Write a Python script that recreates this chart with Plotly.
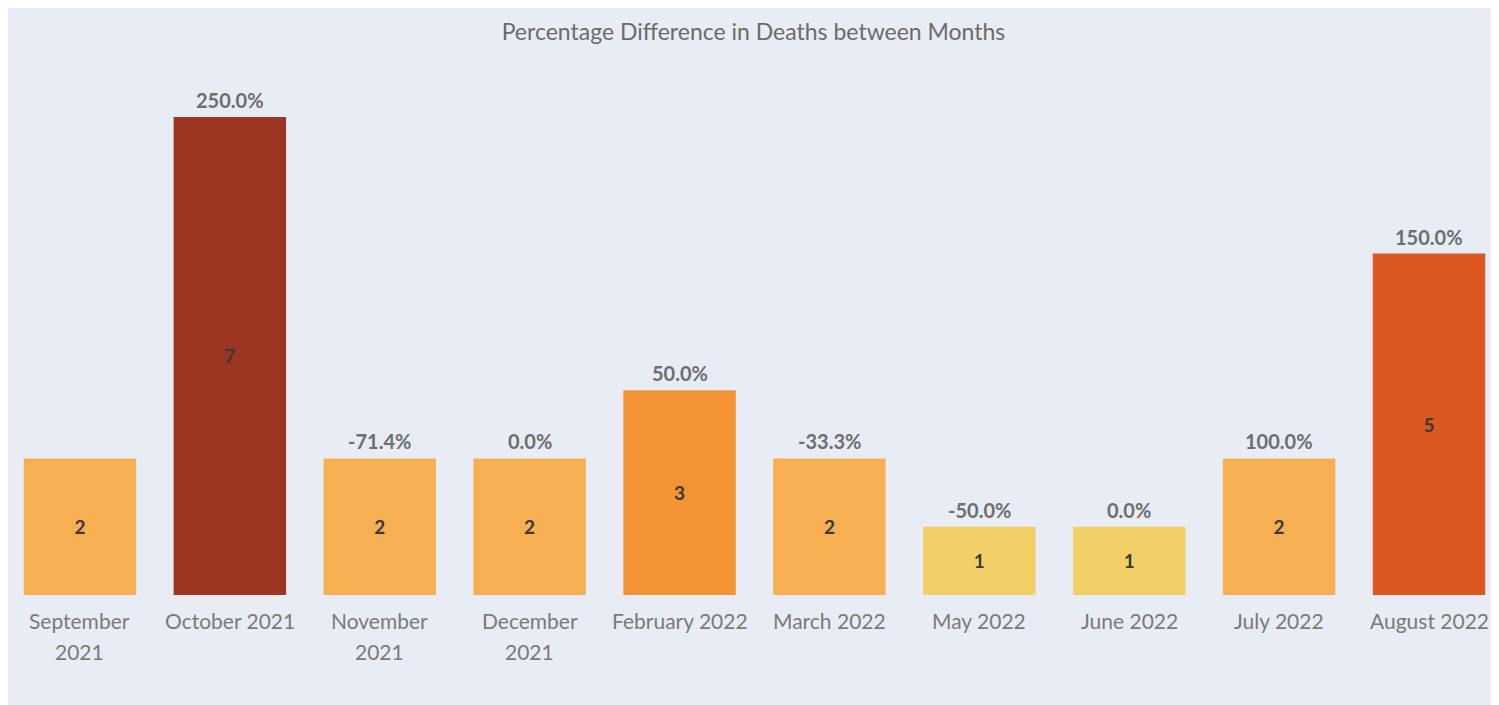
import plotly.graph_objects as go

months = ["September 2021", "October 2021", "November 2021", "December 2021",
          "February 2022", "March 2022", "May 2022", "June 2022", "July 2022", "August 2022"]
tick_lines = [["September", "2021"], ["October 2021"], ["November", "2021"], ["December", "2021"],
              ["February 2022"], ["March 2022"], ["May 2022"], ["June 2022"], ["July 2022"], ["August 2022"]]
deaths = [2, 7, 2, 2, 3, 2, 1, 1, 2, 5]
pct_labels = ["", "250.0%", "-71.4%", "0.0%", "50.0%", "-33.3%", "-50.0%", "0.0%", "100.0%", "150.0%"]
color_map = {1: "#f3d066", 2: "#f6b052", 3: "#f39333", 5: "#dc5820", 7: "#9c3522"}

FONT = "Lato"
bg = "#e8ecf4"
H = 697

fig = go.Figure()
fig.add_trace(go.Bar(
    x=list(range(len(months))), y=deaths,
    marker=dict(color=[color_map[d] for d in deaths], line=dict(width=0)),
    text=[str(d) for d in deaths], textposition="inside", insidetextanchor="middle",
    textangle=0,
    textfont=dict(family=FONT, size=19, color="#3a3a3a", weight="bold"),
    hoverinfo="skip", width=0.75,
))

for i, (d, p) in enumerate(zip(deaths, pct_labels)):
    if p:
        fig.add_annotation(x=i, y=d, yref="y", text=p, showarrow=False,
                           yanchor="middle", yshift=17,
                           font=dict(family=FONT, size=20, color="#6e6e6e", weight="bold"))

for i, lines in enumerate(tick_lines):
    for j, ln in enumerate(lines):
        fig.add_annotation(x=i, y=0, yref="y", text=ln, showarrow=False,
                           yanchor="middle", yshift=-25 - 31 * j,
                           font=dict(family=FONT, size=21, color="#7a7a7a"))

fig.update_layout(
    width=1491, height=H,
    paper_bgcolor=bg, plot_bgcolor=bg,
    margin=dict(l=0, r=0, t=68, b=110),
    showlegend=False,
    title=dict(text="Percentage Difference in Deaths between Months", x=0.5, xanchor="center",
               y=1 - 24 / H, yanchor="middle", yref="container",
               font=dict(family=FONT, size=23, color="#6b6b6b")),
    xaxis=dict(showticklabels=False, showgrid=False, zeroline=False, showline=False,
               range=[-0.48, 9.467]),
    yaxis=dict(range=[0, 7.6], showticklabels=False, showgrid=False, zeroline=False, showline=False),
)

fig.write_html("out.html")
